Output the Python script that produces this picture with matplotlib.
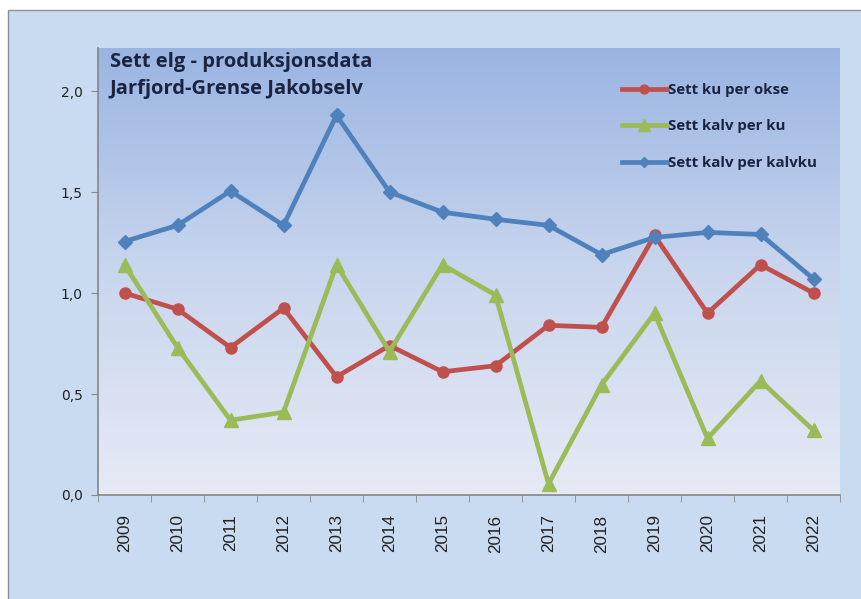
import numpy as np
import matplotlib
matplotlib.use("Agg")
import matplotlib.pyplot as plt
from matplotlib.patches import Rectangle
from matplotlib.lines import Line2D
from matplotlib.colors import LinearSegmentedColormap

years = ["2009", "2010", "2011", "2012", "2013", "2014", "2015",
         "2016", "2017", "2018", "2019", "2020", "2021", "2022"]
ku_per_okse = [1.00, 0.92, 0.73, 0.925, 0.585, 0.74, 0.61, 0.64, 0.84, 0.83, 1.285, 0.90, 1.14, 1.00]
kalv_per_ku = [1.14, 0.73, 0.37, 0.41, 1.14, 0.71, 1.14, 0.99, 0.055, 0.545, 0.90, 0.28, 0.565, 0.32]
kalv_per_kalvku = [1.255, 1.335, 1.505, 1.335, 1.88, 1.50, 1.40, 1.365, 1.335, 1.19, 1.275, 1.30, 1.29, 1.07]
series_names = ["Sett ku per okse", "Sett kalv per ku", "Sett kalv per kalvku"]
yticks = [0.0, 0.5, 1.0, 1.5, 2.0]
ytick_labels = ["0,0", "0,5", "1,0", "1,5", "2,0"]
title_lines = ["Sett elg - produksjonsdata", "Jarfjord-Grense Jakobselv"]

W, H = 861, 599
fig = plt.figure(figsize=(W / 100, H / 100), dpi=100)
fig.patch.set_facecolor("white")
# outer chart area (extends beyond right and bottom edges)
fig.patches.append(Rectangle((8 / W, -0.05), 1.0, 1 - 10 / H + 0.05,
                             transform=fig.transFigure, facecolor="#c9dbf1",
                             edgecolor="#8a8f98", linewidth=1.0, zorder=-10))

left, top, right, bottom = 98, 48, 840, 495
ax = fig.add_axes([left / W, 1 - bottom / H, (right - left) / W, (bottom - top) / H])
ax.set_zorder(5)
ax.set_facecolor("none")

x = np.arange(len(years))
ax.set_xlim(-0.5, len(years) - 0.5)
ax.set_ylim(0, 2.213)

# gradient background
grad = np.linspace(0, 1, 256).reshape(-1, 1)
cmap = LinearSegmentedColormap.from_list("g", ["#e6eaf5", "#c9d6ee", "#9ab4e2"])
ax.imshow(grad, aspect="auto", cmap=cmap, origin="lower",
          extent=[-0.5, len(years) - 0.5, 0, 2.213], zorder=0)

colors = ["#c0504d", "#9bbb59", "#4f81bd"]
markers = ["o", "^", "D"]
msizes = [8, 10, 7]
for vals, c, m, ms, name in zip([ku_per_okse, kalv_per_ku, kalv_per_kalvku], colors, markers, msizes, series_names):
    ax.plot(x, vals, color=c, lw=3.4, marker=m, markersize=ms, markeredgecolor=c,
            markerfacecolor=c, label=name, zorder=3, solid_joinstyle="round")

for s in ["top", "right"]:
    ax.spines[s].set_visible(False)
for s in ["left", "bottom"]:
    ax.spines[s].set_color("#868686")
    ax.spines[s].set_linewidth(1.2)

ax.set_yticks(yticks)
ax.set_yticklabels(ytick_labels, fontsize=10, color="#222222")
ax.tick_params(axis="y", length=5, color="#868686", pad=6)

ax.set_xticks(x)
ax.set_xticklabels(years, rotation=90, fontsize=12.3, color="#222222", family="Liberation Sans")
ax.tick_params(axis="x", which="major", length=0, pad=14)
ax.set_xticks(np.arange(-0.5, len(years) + 0.5, 1), minor=True)
ax.tick_params(axis="x", which="minor", length=5, color="#868686")

ax.text(0.016, 0.99, title_lines[0] + "\n" + title_lines[1], transform=ax.transAxes,
        ha="left", va="top", fontsize=14.5, fontweight="bold", color="#1a2440",
        family="Open Sans", linespacing=1.45)

handles = [Line2D([0], [0], color=c, lw=3.4, marker=m, markersize=ms * 0.8)
           for c, m, ms in zip(colors, markers, msizes)]
leg = ax.legend(handles, series_names, loc="upper left", bbox_to_anchor=(0.706, 0.922),
                frameon=False, handlelength=3.0, handletextpad=0.1, labelspacing=1.5,
                borderaxespad=0, borderpad=0,
                prop={"family": "Open Sans", "weight": "bold", "size": 10.8})
for t in leg.get_texts():
    t.set_color("#1a2440")

fig.savefig("out.png", dpi=100)
